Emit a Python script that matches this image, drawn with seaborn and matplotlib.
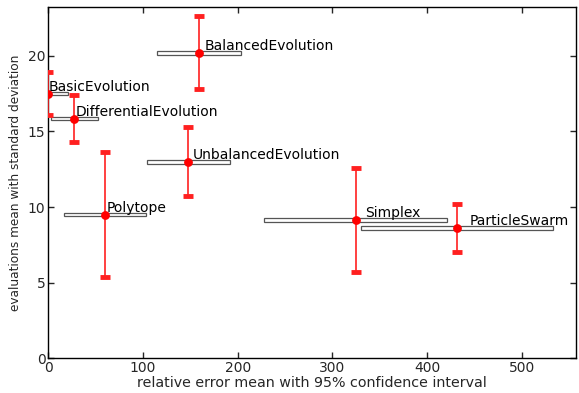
import matplotlib
matplotlib.use("Agg")
import matplotlib.pyplot as plt
import seaborn as sns
import pandas as pd

names = ["BasicEvolution", "DifferentialEvolution", "BalancedEvolution",
         "UnbalancedEvolution", "Polytope", "Simplex", "ParticleSwarm"]
err_mean = [0.0, 27.5, 159.5, 148.0, 59.5, 324.5, 432.0]
ci_low = [2.0, 3.0, 115.0, 104.5, 16.5, 228.0, 330.0]
ci_high = [21.0, 52.0, 204.0, 191.5, 103.5, 421.5, 533.5]
eval_mean = [17.5, 15.85, 20.2, 13.0, 9.5, 9.13, 8.6]
eval_std = [1.4, 1.55, 2.4, 2.3, 4.15, 3.45, 1.6]
xticks = [0, 100, 200, 300, 400, 500]
yticks = [0, 5, 10, 15, 20]

df = pd.DataFrame({"name": names, "x": err_mean, "lo": ci_low, "hi": ci_high,
                   "y": eval_mean, "sd": eval_std})

sns.set_style("ticks")
plt.rcParams["font.family"] = ["DejaVu Sans"]
plt.rcParams["font.size"] = 10

fig = plt.figure(figsize=(5.79, 3.93), dpi=100)
ax = fig.add_axes([0.0834, 0.0883, 0.9109, 0.8931])

# confidence interval boxes
ax.barh(df["y"], df["hi"] - df["lo"], left=df["lo"], height=0.25,
        facecolor="white", edgecolor="#555555", linewidth=0.9, zorder=2)

# std error bars
ax.errorbar(df["x"], df["y"], yerr=df["sd"], fmt="none", ecolor="#ff2020",
            elinewidth=1.2, capsize=3.5, capthick=3.5, zorder=3)
sns.scatterplot(data=df, x="x", y="y", color="#ff0000", s=40,
                edgecolor="#ff0000", linewidth=0, ax=ax, zorder=4, legend=False)

for _, r in df.iterrows():
    ax.text(r["x"] * 1.03 + 0.5, r["y"], r["name"], va="bottom", ha="left",
            fontsize=10, color="black", zorder=5)

ax.set_xlim(0, 557)
ax.set_ylim(0, 23.2)
ax.set_xticks(xticks)
ax.set_yticks(yticks)
ax.tick_params(direction="in", top=True, right=True, length=4, width=1,
               labelsize=10, pad=2)
for s in ax.spines.values():
    s.set_linewidth(1.0)
    s.set_color("black")
ax.set_xlabel("relative error mean with 95% confidence interval", fontsize=10.3, labelpad=1)
ax.set_ylabel("evaluations mean with standard deviation", fontsize=8.7, labelpad=4)

fig.savefig("out.png", dpi=100)
